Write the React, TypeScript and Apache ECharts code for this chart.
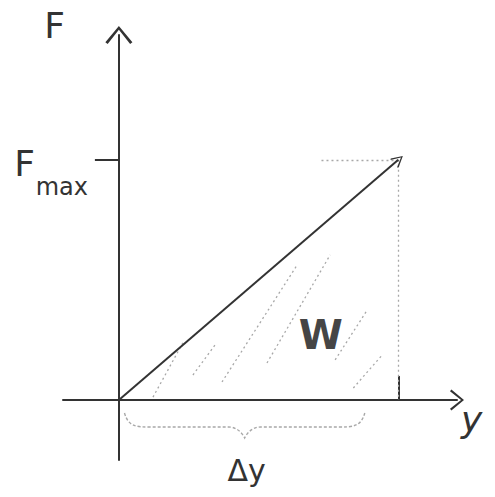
import React, { useEffect, useRef } from "react";
import * as echarts from "echarts";

// Axis quantities (normalised units)
const FMAX = 1;
const DY = 1;

// Force rises linearly from 0 to Fmax over the displacement Δy
const forceLine: number[][] = [[0, 0], [DY, FMAX]];

// Dotted construction lines from the end point to both axes
const guideLines: number[][][] = [
  [[0.725, FMAX], [DY, FMAX]],
  [[DY, FMAX], [DY, 0]],
];

// Loose hatching that marks the work area under the line
const hatchLines: number[][][] = [
  [[0.122, 0.012], [0.229, 0.238]],
  [[0.265, 0.104], [0.344, 0.229]],
  [[0.369, 0.075], [0.638, 0.562]],
  [[0.53, 0.154], [0.756, 0.604]],
  [[0.774, 0.167], [0.889, 0.375]],
  [[0.839, 0.05], [0.943, 0.188]],
];

// Brace under the x axis that spans the displacement
const braceSpan: number[] = [0.02, 0.88];

const workPoint: number[] = [0.723, 0.27];

const yAxisName = "F";
const xAxisName = "y";
const workText = "W";
const braceText = "Δy";

const INK = "#333";
const PENCIL = "#a8a8a8";
const FONT = "'DejaVu Sans', 'Noto Sans', sans-serif";

// Open chevron pointing up; ECharts rotates it along axes and lines
const CHEVRON = "path://M10,0 L20,12 L18.3,13.3 L10,2.8 L1.7,13.3 L0,12 Z";

export default function App() {
  const ref = useRef<HTMLDivElement>(null);

  useEffect(() => {
    if (!ref.current) return;
    const chart = echarts.init(ref.current, null, { renderer: "svg" });

    chart.setOption({
      animation: false,
      backgroundColor: "#ffffff",
      grid: {
        left: 63,
        right: 38,
        top: 35,
        bottom: 37,
        outerBoundsMode: "none",
      },
      xAxis: {
        type: "value",
        min: -0.2,
        max: 1.21,
        splitLine: { show: false },
        axisLine: {
          onZero: true,
          lineStyle: { color: INK, width: 2 },
          symbol: ["none", CHEVRON],
          symbolSize: [22, 14],
        },
        axisTick: {
          show: true,
          customValues: [DY],
          inside: true,
          length: 24,
          lineStyle: { color: INK, width: 2 },
        },
        axisLabel: { show: false },
        name: xAxisName,
        nameLocation: "end",
        nameGap: 4,
        nameTextStyle: {
          color: INK,
          fontFamily: FONT,
          fontSize: 36,
          fontStyle: "italic",
          align: "left",
          verticalAlign: "top",
          padding: [2, 0, 0, 0],
        },
      },
      yAxis: {
        type: "value",
        min: -0.25,
        max: 1.52,
        splitLine: { show: false },
        axisLine: {
          onZero: true,
          lineStyle: { color: INK, width: 2 },
          symbol: ["none", CHEVRON],
          symbolSize: [30, 18],
        },
        axisTick: {
          show: true,
          customValues: [FMAX],
          inside: false,
          length: 24,
          lineStyle: { color: INK, width: 2 },
        },
        axisLabel: {
          show: true,
          customValues: [FMAX],
          margin: -25,
          padding: [24, 0, 0, 0],
          formatter: () => "{f|F}{g|}\n{m|max}",
          rich: {
            f: { fontSize: 36, fontFamily: FONT, color: INK, lineHeight: 30 },
            g: { width: 53, lineHeight: 30 },
            m: { fontSize: 24, fontFamily: FONT, color: INK, lineHeight: 17 },
          },
        },
        name: yAxisName,
        nameLocation: "end",
        nameGap: 10,
        nameTextStyle: {
          color: INK,
          fontFamily: FONT,
          fontSize: 36,
          align: "right",
          verticalAlign: "middle",
          padding: [0, 54, 0, 0],
        },
      },
      series: [
        {
          type: "lines",
          coordinateSystem: "cartesian2d",
          silent: true,
          symbol: "none",
          lineStyle: { color: PENCIL, width: 1.3, type: [2, 3], opacity: 1 },
          data: hatchLines.map((c) => ({ coords: c })),
        },
        {
          type: "lines",
          coordinateSystem: "cartesian2d",
          silent: true,
          symbol: "none",
          lineStyle: { color: PENCIL, width: 1.3, type: [2, 3], opacity: 1 },
          data: guideLines.map((c) => ({ coords: c })),
        },
        {
          type: "lines",
          coordinateSystem: "cartesian2d",
          silent: true,
          symbol: ["none", CHEVRON],
          symbolSize: [16, 12],
          lineStyle: { color: INK, width: 2, opacity: 1 },
          itemStyle: { color: INK },
          data: [{ coords: forceLine }],
        },
        {
          type: "custom",
          coordinateSystem: "cartesian2d",
          silent: true,
          encode: { x: [0, 1] },
          data: [braceSpan],
          renderItem: (_params: any, api: any) => {
            const a = api.coord([api.value(0), 0]);
            const b = api.coord([api.value(1), 0]);
            const x0 = a[0];
            const x1 = b[0];
            const top = a[1] + 13;
            const mid = a[1] + 27;
            const cusp = a[1] + 38;
            const cx = (x0 + x1) / 2;
            const d =
              `M${x0},${top} C${x0 + 4},${mid} ${x0 + 12},${mid} ${x0 + 26},${mid} ` +
              `L${cx - 16},${mid} C${cx - 7},${mid} ${cx - 2},${cusp - 4} ${cx},${cusp} ` +
              `C${cx + 2},${cusp - 4} ${cx + 7},${mid} ${cx + 16},${mid} ` +
              `L${x1 - 26},${mid} C${x1 - 12},${mid} ${x1 - 4},${mid} ${x1},${top}`;
            return {
              type: "group",
              children: [
                {
                  type: "path",
                  shape: { pathData: d },
                  style: { fill: "none", stroke: PENCIL, lineWidth: 1.4, lineDash: [3, 2] },
                },
                {
                  type: "text",
                  x: cx + 2,
                  y: cusp + 18,
                  style: {
                    text: braceText,
                    fill: INK,
                    font: `30px ${FONT}`,
                    align: "center",
                    verticalAlign: "top",
                  },
                },
              ],
            };
          },
        },
        {
          type: "scatter",
          silent: true,
          symbolSize: 1,
          itemStyle: { color: "rgba(0,0,0,0)" },
          label: {
            show: true,
            position: "inside",
            formatter: workText,
            color: "#111",
            fontFamily: FONT,
            fontSize: 40,
            fontWeight: "bold",
          },
          data: [workPoint],
        },
      ],
    });

    return () => chart.dispose();
  }, []);

  return (
    <div
      ref={ref}
      style={{ position: "fixed", left: 0, top: 0, width: 495, height: 497 }}
    />
  );
}
